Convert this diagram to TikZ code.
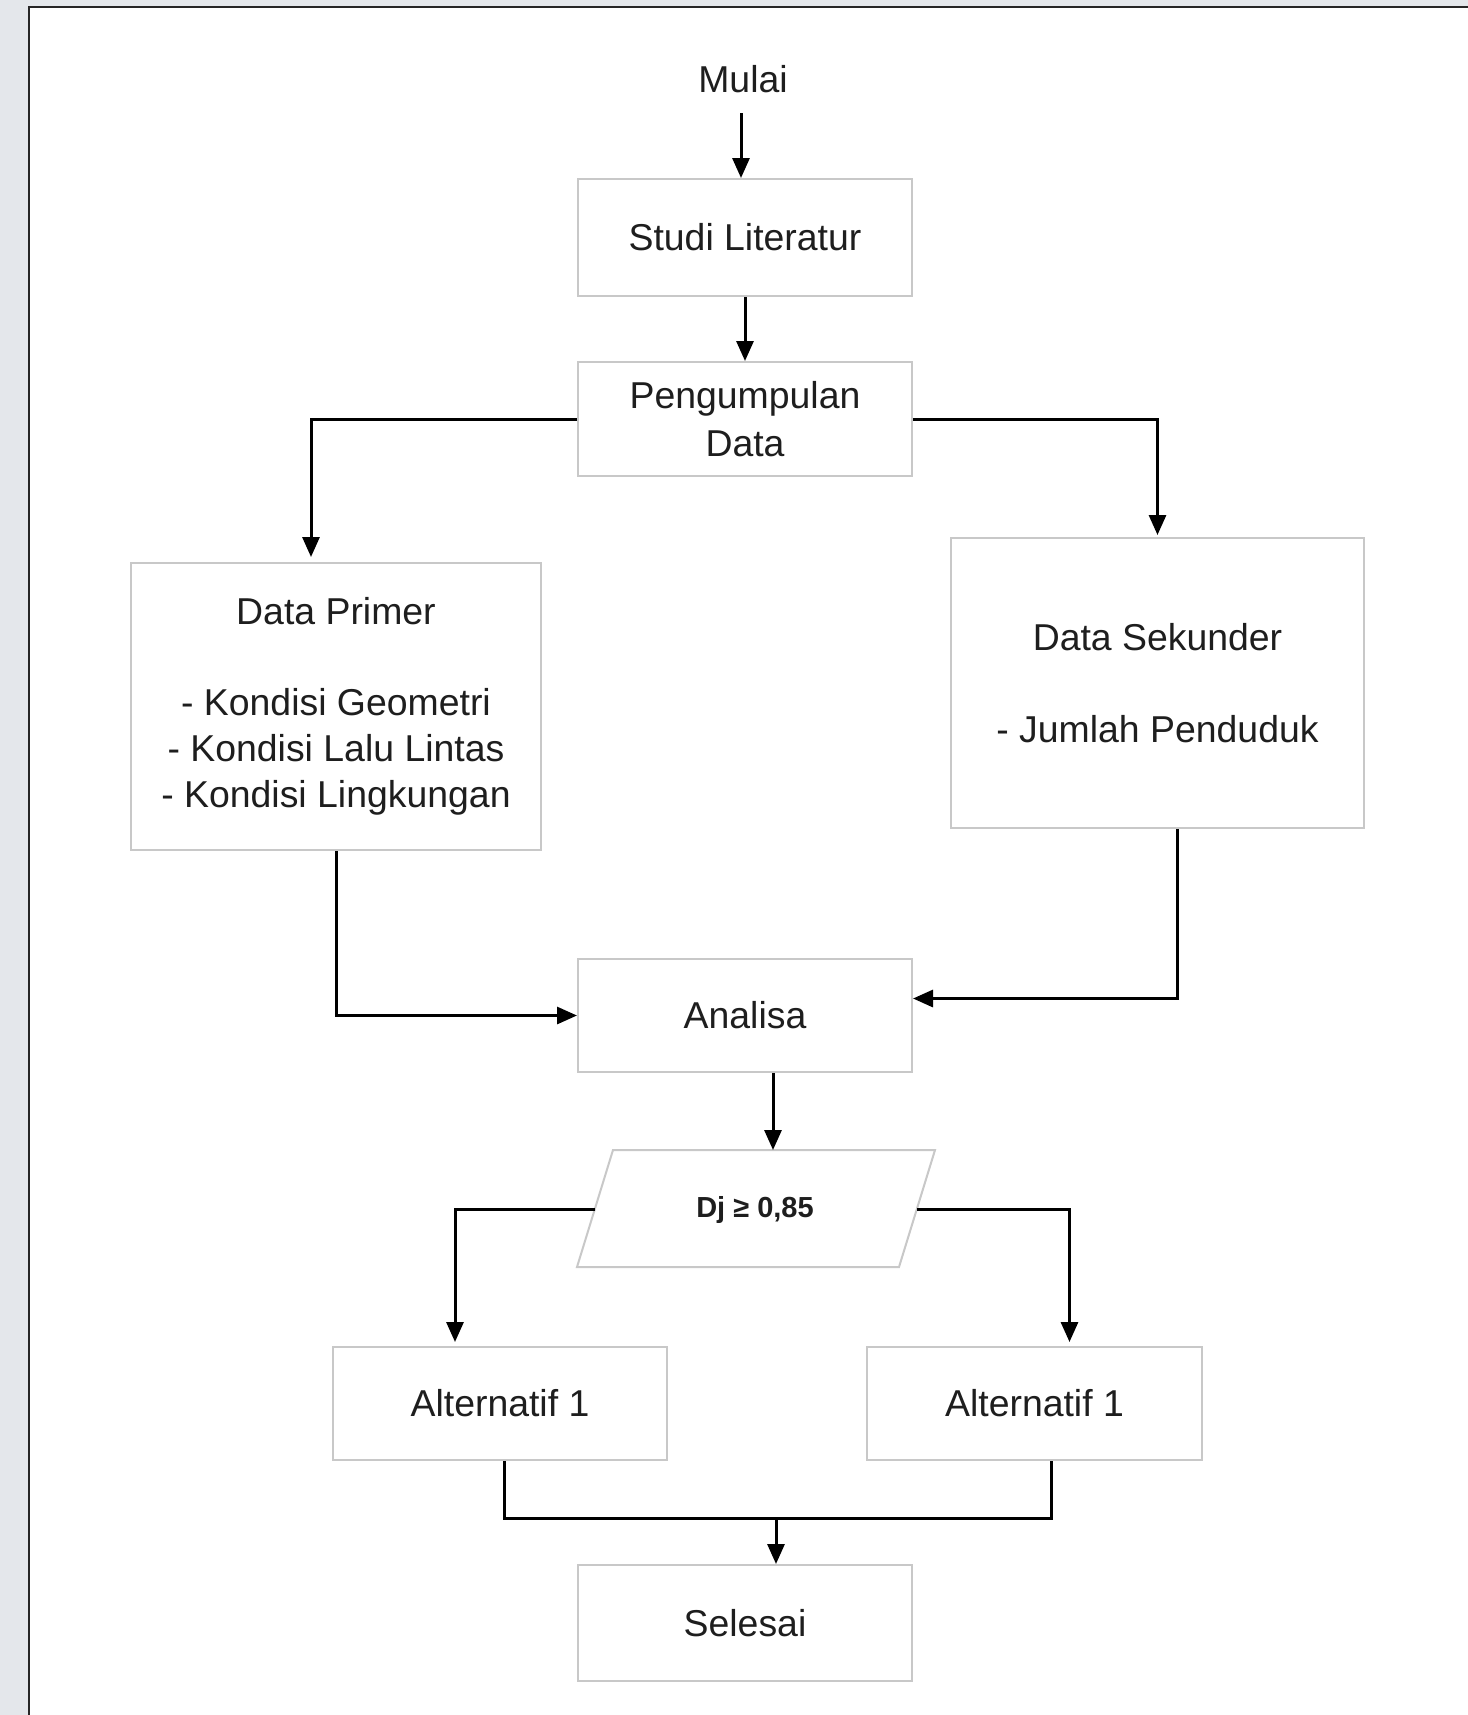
\documentclass[tikz,border=0pt]{standalone}
\usepackage{fontspec}
\setmainfont{Liberation Sans}
\usetikzlibrary{arrows.meta,calc}
\definecolor{pagegrey}{RGB}{228,231,235}
\definecolor{boxgrey}{RGB}{200,200,200}
\definecolor{ink}{RGB}{30,30,30}
\begin{document}
\begin{tikzpicture}[x=0.5pt,y=-0.5pt,
  box/.style={draw=boxgrey, line width=1pt, fill=white, rectangle, inner sep=0pt,
    align=center, text=ink, font=\fontsize{18.7}{23}\selectfont},
  label/.style={text=ink, font=\fontsize{18.7}{23}\selectfont},
  link/.style={line width=1.5pt, draw=black},
  arrow/.style={link, -{Triangle[length=10pt,width=8.5pt]}}]
% page background and sheet
\useasboundingbox (0,0) rectangle (1468,1715);
\fill[pagegrey] (0,0) rectangle (1468,1715);
\fill[white] (29,7) rectangle (1468,1715);
\draw[line width=1.3pt, black!85] (29,1715) -- (29,7) -- (1468,7);

% nodes
\node[label, inner sep=10pt] (mulai) at (743,79) {Mulai};
\node[box, minimum width=167pt, minimum height=58.5pt] (studi) at (745,237.5) {Studi Literatur};
\node[box, minimum width=167pt, minimum height=57pt] (peng) at (745,419) {Pengumpulan\\[1pt]Data};
\node[box, minimum width=205pt, minimum height=143.5pt] (prim) at (336,706.5)
  {Data Primer\\[22.75pt]- Kondisi Geometri\\- Kondisi Lalu Lintas\\- Kondisi Lingkungan};
\node[box, minimum width=206.5pt, minimum height=145pt] (sek) at (1157.5,683)
  {Data Sekunder\\[22.75pt]- Jumlah Penduduk};
\node[box, minimum width=167pt, minimum height=56.5pt] (ana) at (745,1015.5) {Analisa};

% decision parallelogram
\draw[draw=boxgrey, line width=1pt, fill=white] (613,1150) -- (935,1150) -- (899,1267) -- (577,1267) -- cycle;
\node[text=ink, font=\fontsize{14.5}{17}\selectfont\bfseries] (dj) at (755,1209.5) {Dj ≥ 0,85};
\coordinate (djT) at (773,1150);
\coordinate (djL) at (595,1209);
\coordinate (djR) at (917,1209);

\node[box, minimum width=167pt, minimum height=56.5pt] (alta) at (500,1403.5) {Alternatif 1};
\node[box, minimum width=167.5pt, minimum height=56.5pt] (altb) at (1034.5,1403.5) {Alternatif 1};
\node[box, minimum width=167pt, minimum height=58pt] (sel) at (745,1623) {Selesai};

% connectors
\coordinate (mulaiout) at ($(mulai.south)+(-2,0)$);
\draw[arrow] (mulaiout) -- (mulaiout |- studi.north);
\draw[arrow] (studi.south) -- (peng.north);
\draw[arrow] (peng.west) -| ($(prim.north)+(-25,-5)$);
\draw[arrow] (peng.east) -| ($(sek.north)+(0,-2)$);
\draw[arrow] (prim.south) |- (ana.west);
\draw[arrow] ($(sek.south)+(20,0)$) |- ($(ana.east)+(0,-17)$);
\draw[arrow] (ana.south -| djT) -- (djT);
\draw[arrow] (djL) -| ($(alta.north)+(-45,-4)$);
\draw[arrow] (djR) -| ($(altb.north)+(35,-4)$);
\coordinate (join) at (776,1518);
\draw[link] ($(alta.south)+(4,0)$) |- (join);
\draw[link] ($(altb.south)+(17,0)$) |- (join);
\draw[arrow] (join) -- (join |- sel.north);
\end{tikzpicture}
\end{document}
